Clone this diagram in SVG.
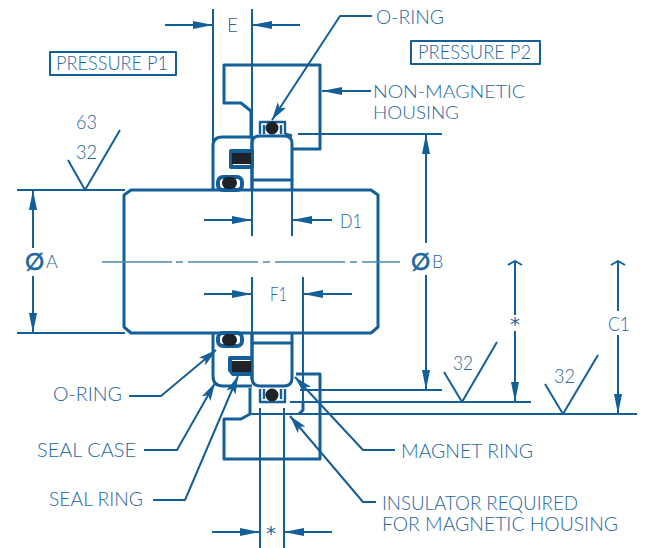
<svg xmlns="http://www.w3.org/2000/svg" width="645" height="548" viewBox="0 0 645 548">
<style>
text{font-family:"Lato","Liberation Sans",sans-serif;font-size:19px;font-weight:300;fill:#1f659e}
.n{font-size:17px}
.m{font-size:24px;font-weight:400;stroke:#1f659e;stroke-width:.5}
.p{font-size:18px}
.a{font-family:"DejaVu Sans",sans-serif;font-size:20px;font-weight:400;text-anchor:middle}
.s,.t,.l,.c{fill:none;stroke:#155f99;stroke-linejoin:round}
.s{stroke-width:3}
.t{stroke-width:2.4}
.l{stroke-width:2}
.c{stroke-width:1.6;stroke:#4f86b3}
.d{marker-end:url(#dim)}
.o{marker-end:url(#lead)}
.b{fill:#1f2328}
.r{fill:none;stroke:#155f99;stroke-width:4;stroke-linejoin:round}
</style>
<defs>
<marker id="dim" markerUnits="userSpaceOnUse" markerWidth="22" markerHeight="12" refX="21" refY="6" orient="auto"><path d="M1 2 L21 6 L1 10 Z" fill="#155f99"/></marker>
<marker id="lead" markerUnits="userSpaceOnUse" markerWidth="20" markerHeight="14" refX="18" refY="7" orient="auto"><path d="M0 2 L18 7 L0 12 L4 7 Z" fill="#155f99"/></marker>
</defs>
<g id="shaft">
<path class="s" d="M131 190H371L378 195V327L371 333H131L124 327V195Z"/>
</g>
<g id="housing-top">
<path class="s" d="M292 149H320V65H224V103H241L251 111V137"/>
</g>
<g id="housing-bottom">
<path class="s" d="M250 388V414L241 419H224V459H320V374H296"/>
<path class="s" d="M303 402V410L299 414"/>
</g>
<g id="seal-case-top">
<path class="s" d="M213 190V146Q213 137 222 137H252"/>
<path class="s" d="M252 137V190"/>
</g>
<g id="seal-case-bottom">
<path class="s" d="M213 333V376Q213 386 223 386H252"/>
<path class="s" d="M252 333V380"/>
</g>
<g id="magnet-ring-top">
<path class="s" d="M252 190V143Q252 136 260 136H284Q292 136 292 143V190M252 180H292"/>
<path class="s" d="M285 134L292 136"/>
</g>
<g id="magnet-ring-bottom">
<path class="s" d="M252 333V378Q252 386 260 386H284Q292 386 292 378V333M252 343H292"/>
</g>
<g id="oring-top">
<rect class="r" x="218" y="177" width="24" height="13" rx="5"/>
<rect class="b" x="222" y="177" width="15" height="12" rx="6"/>
</g>
<g id="oring-bottom">
<rect class="r" x="218" y="333" width="24" height="13" rx="5"/>
<rect class="b" x="222" y="334" width="15" height="12" rx="6"/>
</g>
<g id="seal-ring-top">
<rect class="r" x="231" y="151" width="21" height="16"/>
<rect class="b" x="232" y="153" width="19" height="11"/>
</g>
<g id="seal-ring-bottom">
<path class="r" d="M252 358H230V370L233 374H252"/>
<rect class="b" x="232" y="361" width="19" height="11"/>
</g>
<g id="insulator-top">
<path class="t" d="M260 134V122H285V134M264 134V125M281 134V125"/>
<circle class="b" cx="272" cy="128" r="6.5"/>
</g>
<g id="insulator-bottom">
<path class="t" d="M260 389V402H285V389M264 389V399M281 389V399"/>
<circle class="b" cx="272" cy="395" r="6.5"/>
</g>
<g id="connectors">
<path class="l" d="M213 9V146M252 9V137M252 190V236M292 190V236M252 277V333M303 277V402"/>
<path class="l" d="M260 408V548M284 408V548"/>
<path class="c" d="M102 262H172M176 262H183M188 262H258M263 262H270M275 262H345M350 262H357M362 262H400"/>
<path class="l" d="M17 190H125M17 333H125M298 134H442M300 390H442M290 402H531M250 414H637"/>
<path class="l d" d="M165 25H213"/>
<path class="l d" d="M300 25H252"/>
<path class="l d" d="M204 220H252"/>
<path class="l d" d="M332 220H292"/>
<path class="l d" d="M204 294H252"/>
<path class="l d" d="M352 294H303"/>
<path class="l d" d="M212 532H260"/>
<path class="l d" d="M332 532H284"/>
<path class="l d" d="M33 248V190"/>
<path class="l d" d="M33 276V333"/>
<path class="l d" d="M426 243V134"/>
<path class="l d" d="M426 275V390"/>
<path class="l d" d="M515 331V402"/>
<path class="l" d="M515 315V262M508 265L515 261L522 265"/>
<path class="l d" d="M618 335V414"/>
<path class="l" d="M618 311V262M611 265L618 261L625 265"/>
<path class="l" d="M68 160L85 190L120 130M444 372L462 402L497 342M545 384L563 414L598 355"/>
<path class="l d" d="M371 91H322"/>
<path class="l o" d="M372 16H340L272 120"/>
<path class="l o" d="M129 396H161L216 350"/>
<path class="l o" d="M144 450H177L215 383"/>
<path class="l o" d="M153 500H185L238 376"/>
<path class="l o" d="M395 450H363L295 377"/>
<path class="l o" d="M376 502H363L290 416"/>
</g>
<g id="pressure-p1">
<rect class="l" x="50" y="52" width="126" height="23"/>
<text x="56" y="70" textLength="112" lengthAdjust="spacingAndGlyphs">PRESSURE P1</text>
</g>
<g id="pressure-p2">
<rect class="l" x="411" y="41" width="129" height="23"/>
<text x="418" y="59" textLength="113" lengthAdjust="spacingAndGlyphs">PRESSURE P2</text>
</g>
<g id="labels">
<text x="227" y="32" textLength="11" lengthAdjust="spacingAndGlyphs">E</text>
<text x="376" y="24" textLength="68" lengthAdjust="spacingAndGlyphs">O-RING</text>
<text class="n" x="373" y="98" textLength="152" lengthAdjust="spacingAndGlyphs">NON-MAGNETIC</text>
<text class="n" x="373" y="118.5" textLength="86" lengthAdjust="spacingAndGlyphs">HOUSING</text>
<text x="76" y="129" textLength="21" lengthAdjust="spacingAndGlyphs">63</text>
<text x="76" y="159" textLength="21" lengthAdjust="spacingAndGlyphs">32</text>
<text x="453" y="370" textLength="20" lengthAdjust="spacingAndGlyphs">32</text>
<text x="554" y="383" textLength="21" lengthAdjust="spacingAndGlyphs">32</text>
<text x="340" y="228" textLength="22" lengthAdjust="spacingAndGlyphs">D1</text>
<text x="270" y="301" textLength="17" lengthAdjust="spacingAndGlyphs">F1</text>
<text class="m" x="25" y="270">Ø</text>
<text class="p" x="46" y="268">A</text>
<text class="m" x="411" y="270">Ø</text>
<text class="p" x="432" y="268">B</text>
<text class="a" x="515" y="331">*</text>
<text x="608" y="331" textLength="22" lengthAdjust="spacingAndGlyphs">C1</text>
<text class="a" x="271" y="540">*</text>
<text x="53" y="401" textLength="69" lengthAdjust="spacingAndGlyphs">O-RING</text>
<text x="37" y="457" textLength="99" lengthAdjust="spacingAndGlyphs">SEAL CASE</text>
<text x="49" y="506" textLength="94" lengthAdjust="spacingAndGlyphs">SEAL RING</text>
<text x="401" y="458" textLength="132" lengthAdjust="spacingAndGlyphs">MAGNET RING</text>
<text x="382" y="510" textLength="196" lengthAdjust="spacingAndGlyphs">INSULATOR REQUIRED</text>
<text x="382" y="531" textLength="236" lengthAdjust="spacingAndGlyphs">FOR MAGNETIC HOUSING</text>
</g>
</svg>
